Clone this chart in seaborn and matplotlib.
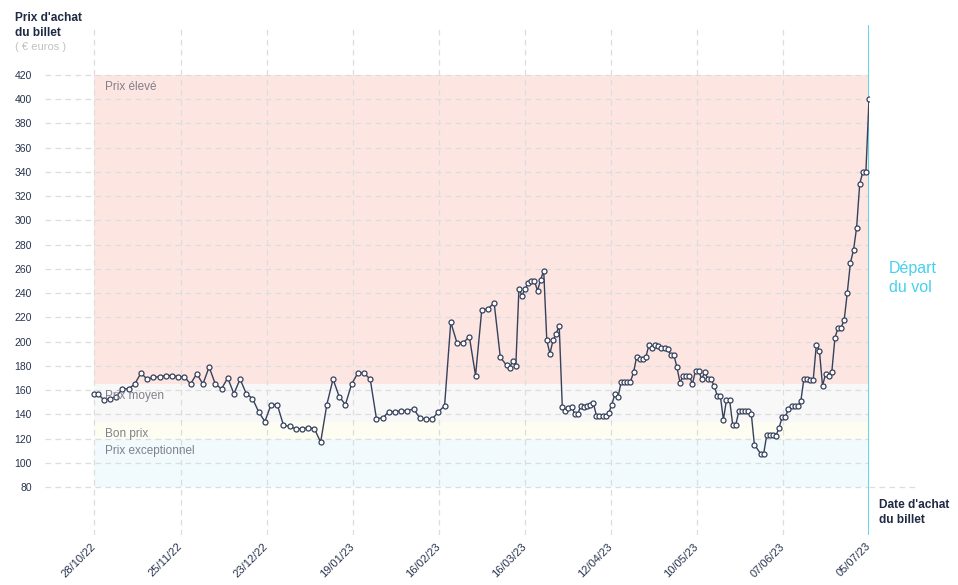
import numpy as np
import pandas as pd
import matplotlib
matplotlib.use('Agg')
import matplotlib.pyplot as plt
import seaborn as sns

# purchase dates: every 2 days at first, then daily
dates = pd.DatetimeIndex(
    [pd.Timestamp('2022-10-28')]
    + list(pd.date_range('2022-10-29', '2023-03-10', freq='2D'))
    + list(pd.date_range('2023-03-11', '2023-05-29', freq='D'))
    + list(pd.date_range('2023-05-31', '2023-07-05', freq='D'))
)

prix = [
    157, 157, 152, 153, 154.5, 161, 161, 165, 174, 169,
    170.5, 171, 172, 172, 171, 171, 165, 173.5, 165, 179,
    165, 161, 170, 157, 169, 157, 153, 142, 134, 148,
    148, 131, 130, 128, 128, 129, 128, 117, 148, 169,
    154.5, 148, 165, 174, 174, 169, 136.5, 137, 142, 142,
    143, 143, 144.5, 137, 136, 136, 142, 147, 216, 199,
    199, 204, 172, 226, 227, 232, 187, 180.5,
    # daily from 11/03
    178.5, 184, 180, 243.5, 238, 243.5, 248.5, 250, 250, 242,
    251, 258.5, 201, 190, 201, 206.5, 213, 146, 143, 145.5,
    146, 140.5, 140.5, 147, 146, 147, 148, 149.5, 139, 139,
    139, 139, 141, 148, 157, 154.5, 166.5, 167, 167, 167,
    174.5, 187.5, 186, 186, 187.5, 197.5, 194.5, 197.5, 196.5, 195,
    195, 194, 189, 189, 179, 166, 172, 172, 172, 165,
    176, 176, 169, 175, 169, 169, 163.5, 155.5, 155.5, 135.5,
    152, 152, 131.5, 131.5, 142.5, 142.5, 142.5, 142.5, 140.5, 115,
    # from 31/05
    107.5, 107.5, 123, 123, 123, 122.5, 129, 138, 138, 144.5,
    146.5, 146.5, 146.5, 151, 169.5, 169.5, 168.5, 168.5, 197.5, 192.5,
    163.5, 173.5, 172, 175, 203, 211.5, 211.5, 218, 240.5, 265,
    275.5, 294, 330, 340, 340, 400,
]

band_names = ['Prix élevé', 'Prix moyen', 'Bon prix', 'Prix exceptionnel']
band_low = [165, 134, 120, 80]
band_high = [420, 165, 134, 120]
band_colors = ['#fde6e1', '#f8f8f9', '#fefdf1', '#f1fbfd']

y_ticks = [80, 100, 120, 140, 160, 180, 200, 220, 240, 260, 280, 300,
           320, 340, 360, 380, 400, 420]
x_labels = ['28/10/22', '25/11/22', '23/12/22', '19/01/23', '16/02/23',
            '16/03/23', '12/04/23', '10/05/23', '07/06/23', '05/07/23']

navy = '#27324d'
line_col = '#36415b'
cyan = '#45d0ee'

sns.set_theme(style='white')
plt.rcParams['font.family'] = ['Liberation Sans', 'DejaVu Sans']

df = pd.DataFrame({'date': dates, 'prix': prix})

W, H = 958, 585
fig = plt.figure(figsize=(W / 100, H / 100), dpi=100)
ax = fig.add_axes([45 / W, 50 / H, 824 / W, 510 / H])

start, end = dates[0], dates[-1]
px_day = 774.7 / 250
ax.set_xlim(start - pd.Timedelta(days=49.5 / px_day), end)
ax.set_ylim(80 - 48 / 1.2118, 420 + 50 / 1.2118)

# price zones
for name, lo, hi, col in zip(band_names, band_low, band_high, band_colors):
    ax.fill_between([start, end], lo, hi, color=col, lw=0, zorder=0)
    ax.annotate(name, xy=(start, hi), xytext=(7.5, -4.5), textcoords='offset points',
                ha='left', va='top', fontsize=8.5, color='#80808b', zorder=4)

sns.lineplot(data=df, x='date', y='prix', ax=ax, color=line_col, lw=1,
             marker='o', markersize=3.6, markerfacecolor='white',
             markeredgecolor=line_col, markeredgewidth=0.9, zorder=3)

ax.axvline(end, color=cyan, lw=1.2, zorder=2)

x_ticks = pd.date_range(start, end, periods=len(x_labels))
ax.set_xticks(x_ticks)
ax.set_xticklabels(x_labels, rotation=45, ha='right', va='center',
                   rotation_mode='anchor', fontsize=8, color=navy)
ax.set_yticks(y_ticks)
ax.set_yticklabels([str(v) for v in y_ticks], fontsize=7.5, color=navy)
ax.tick_params(axis='both', length=0)
ax.tick_params(axis='x', pad=7)
ax.tick_params(axis='y', pad=9.5)
ax.set_axisbelow(True)
ax.grid(True, color='#dddddd', lw=0.9, ls=(0, (4.5, 3.5)))
for s in ax.spines.values():
    s.set_visible(False)
ax.set_xlabel('')
ax.set_ylabel('')

# extend the bottom line towards the x title
ax.plot([end, end + pd.Timedelta(days=50 / px_day)], [80, 80], color='#dddddd',
        lw=0.9, ls=(0, (4.5, 3.5)), clip_on=False, zorder=1)

fig.text(15 / W, 1 - 12 / H, "Prix d'achat\ndu billet", ha='left', va='top',
         fontsize=8.6, fontweight='bold', color='#1f2a44', linespacing=1.35)
fig.text(15 / W, 1 - 42 / H, "( € euros )", ha='left', va='top',
         fontsize=8, color='#c2c2c2')
fig.text(889 / W, 1 - 261 / H, "Départ\ndu vol", ha='left', va='top',
         fontsize=11.5, color=cyan, linespacing=1.3)
fig.text(879 / W, 1 - 499 / H, "Date d'achat\ndu billet", ha='left', va='top',
         fontsize=8.6, fontweight='bold', color='#1f2a44', linespacing=1.3)

fig.savefig('out.png', dpi=100)
